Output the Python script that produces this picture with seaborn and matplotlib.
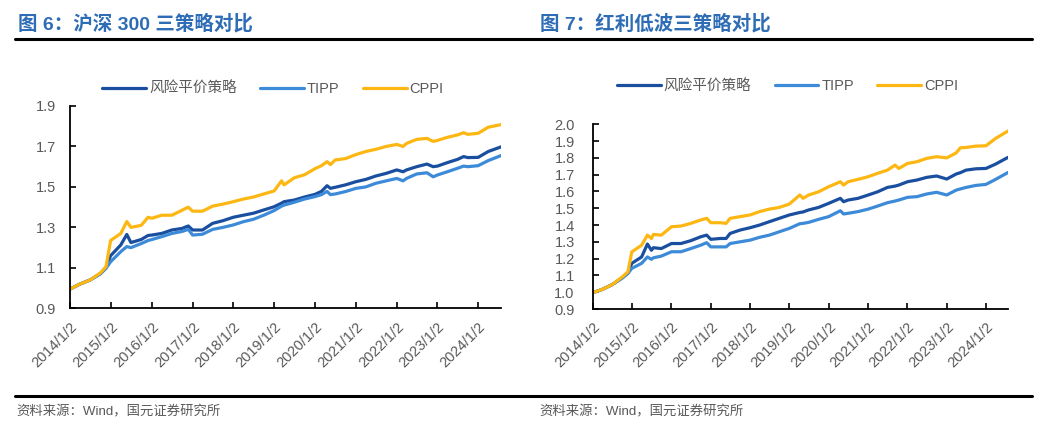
import matplotlib
matplotlib.use("Agg")
import matplotlib.pyplot as plt
from matplotlib.lines import Line2D
import numpy as np
import pandas as pd
import seaborn as sns

### data

series_names = ['风险平价策略', 'TIPP', 'CPPI']
series_colors = ['#1a4fa0', '#3d8bd8', '#fdb713']

# 图 6: 沪深300
hs300_dates = ['2014-01-02', '2014-04-01', '2014-07-01', '2014-10-01', '2014-11-20', '2014-12-31',
               '2015-04-01', '2015-05-25', '2015-07-01', '2015-10-01', '2015-12-01', '2016-01-04',
               '2016-04-01', '2016-07-01', '2016-10-01', '2016-11-25', '2017-01-03', '2017-04-01',
               '2017-07-01', '2017-10-01', '2018-01-02', '2018-04-01', '2018-07-01', '2018-10-01',
               '2019-01-02', '2019-03-10', '2019-04-01', '2019-07-01', '2019-10-01', '2020-01-02',
               '2020-03-01', '2020-04-20', '2020-05-20', '2020-07-01', '2020-10-01', '2021-01-04',
               '2021-04-01', '2021-07-01', '2021-10-01', '2022-01-04', '2022-03-01', '2022-04-01',
               '2022-07-01', '2022-10-01', '2022-11-25', '2023-01-03', '2023-04-01', '2023-07-01',
               '2023-08-25', '2023-10-01', '2024-01-02', '2024-04-01', '2024-07-25']
hs300_rp = [0.995, 1.020, 1.040, 1.072, 1.100, 1.160, 1.213, 1.265, 1.225, 1.240, 1.260, 1.262,
            1.270, 1.287, 1.295, 1.307, 1.287, 1.287, 1.320, 1.333, 1.350, 1.360, 1.370, 1.386,
            1.402, 1.420, 1.427, 1.435, 1.450, 1.463, 1.478, 1.506, 1.493, 1.498, 1.510, 1.526,
            1.537, 1.554, 1.567, 1.584, 1.575, 1.584, 1.600, 1.613, 1.600, 1.603, 1.620, 1.636,
            1.650, 1.645, 1.646, 1.675, 1.698]
hs300_tipp = [0.995, 1.020, 1.040, 1.070, 1.098, 1.130, 1.180, 1.205, 1.200, 1.220, 1.235, 1.240,
              1.254, 1.270, 1.280, 1.290, 1.262, 1.266, 1.290, 1.300, 1.312, 1.328, 1.340, 1.360,
              1.383, 1.405, 1.410, 1.424, 1.440, 1.452, 1.462, 1.478, 1.462, 1.465, 1.477, 1.493,
              1.500, 1.518, 1.530, 1.542, 1.530, 1.542, 1.564, 1.570, 1.550, 1.559, 1.575, 1.592,
              1.603, 1.600, 1.605, 1.630, 1.655]
hs300_cppi = [0.995, 1.020, 1.040, 1.075, 1.106, 1.235, 1.270, 1.329, 1.300, 1.310, 1.350, 1.345,
              1.360, 1.360, 1.385, 1.400, 1.380, 1.380, 1.405, 1.415, 1.427, 1.440, 1.450, 1.465,
              1.480, 1.530, 1.510, 1.545, 1.560, 1.590, 1.605, 1.625, 1.610, 1.633, 1.640, 1.660,
              1.675, 1.686, 1.700, 1.710, 1.700, 1.715, 1.735, 1.740, 1.725, 1.730, 1.745, 1.757,
              1.768, 1.760, 1.765, 1.795, 1.808]

# 图 7: 红利低波
hldb_dates = ['2014-01-02', '2014-04-01', '2014-07-01', '2014-10-01', '2014-11-25', '2014-12-31',
              '2015-04-01', '2015-05-25', '2015-07-01', '2015-07-20', '2015-10-01', '2016-01-04',
              '2016-04-01', '2016-07-01', '2016-10-01', '2016-11-25', '2017-01-03', '2017-04-01',
              '2017-05-25', '2017-07-01', '2017-10-01', '2018-01-02', '2018-04-01', '2018-07-01',
              '2018-10-01', '2019-01-02', '2019-04-10', '2019-05-10', '2019-07-01', '2019-10-01',
              '2020-01-02', '2020-04-20', '2020-05-20', '2020-07-01', '2020-10-01', '2021-01-04',
              '2021-04-01', '2021-07-01', '2021-09-10', '2021-10-15', '2022-01-04', '2022-04-01',
              '2022-07-01', '2022-10-01', '2023-01-03', '2023-04-01', '2023-05-10', '2023-07-01',
              '2023-10-01', '2024-01-02', '2024-04-01', '2024-07-25']
hldb_rp = [0.997, 1.017, 1.045, 1.085, 1.115, 1.172, 1.210, 1.287, 1.250, 1.265, 1.260, 1.290,
           1.290, 1.307, 1.330, 1.340, 1.315, 1.320, 1.320, 1.350, 1.370, 1.384, 1.400, 1.420,
           1.440, 1.460, 1.475, 1.478, 1.490, 1.505, 1.529, 1.559, 1.539, 1.549, 1.559, 1.579,
           1.598, 1.624, 1.632, 1.638, 1.658, 1.668, 1.684, 1.692, 1.674, 1.704, 1.712, 1.727,
           1.735, 1.737, 1.763, 1.803]
hldb_tipp = [0.997, 1.017, 1.045, 1.083, 1.112, 1.142, 1.172, 1.210, 1.196, 1.205, 1.215, 1.241,
             1.241, 1.260, 1.280, 1.295, 1.270, 1.270, 1.270, 1.290, 1.300, 1.310, 1.327, 1.340,
             1.360, 1.380, 1.408, 1.410, 1.416, 1.434, 1.450, 1.485, 1.466, 1.470, 1.480, 1.495,
             1.513, 1.533, 1.543, 1.549, 1.565, 1.569, 1.585, 1.595, 1.579, 1.608, 1.615, 1.624,
             1.636, 1.642, 1.672, 1.713]
hldb_cppi = [0.997, 1.017, 1.045, 1.090, 1.122, 1.240, 1.280, 1.340, 1.320, 1.344, 1.340, 1.390,
             1.394, 1.410, 1.430, 1.440, 1.414, 1.414, 1.410, 1.440, 1.450, 1.460, 1.480, 1.495,
             1.505, 1.525, 1.579, 1.559, 1.579, 1.598, 1.628, 1.658, 1.638, 1.658, 1.672, 1.688,
             1.708, 1.727, 1.757, 1.737, 1.767, 1.777, 1.797, 1.807, 1.800, 1.830, 1.860, 1.862,
             1.870, 1.872, 1.916, 1.960]

tick_dates = ['%d-01-02' % y for y in range(2014, 2025)]
tick_labels = ['%d/1/2' % y for y in range(2014, 2025)]

### style
sns.set_style('ticks')
plt.rcParams['font.family'] = ['Liberation Sans', 'Noto Sans CJK SC']
gray = '#595959'
blue_title = '#2e6cb5'


def to_long(dates, rp, tipp, cppi):
    df = pd.DataFrame({'date': pd.to_datetime(dates),
                       series_names[0]: rp,
                       series_names[1]: tipp,
                       series_names[2]: cppi})
    return df.melt(id_vars='date', var_name='series', value_name='value')


def draw_panel(ax, df, yticks, ylim, legend_xy, ypad):
    sns.lineplot(data=df, x='date', y='value', hue='series', hue_order=series_names,
                 palette=series_colors, linewidth=2.3, ax=ax, legend=False)
    ax.set_xlim(pd.Timestamp('2014-01-02'), pd.Timestamp('2024-07-25'))
    ax.set_ylim(*ylim)
    ax.set_yticks(yticks)
    ax.set_yticklabels(['%.1f' % v for v in yticks])
    ax.set_xticks(pd.to_datetime(tick_dates))
    ax.set_xticklabels(tick_labels, rotation=45, ha='right', rotation_mode='anchor')
    ax.set_xlabel('')
    ax.set_ylabel('')
    for s in ['top', 'right']:
        ax.spines[s].set_visible(False)
    for s in ['left', 'bottom']:
        ax.spines[s].set_color('black')
        ax.spines[s].set_linewidth(1.3)
    ax.tick_params(axis='both', direction='in', length=4, width=1.2, color='black',
                   labelsize=10.5, labelcolor=gray)
    ax.tick_params(axis='x', pad=8)
    ax.tick_params(axis='y', pad=ypad)
    handles = [Line2D([0], [0], color=c, lw=2.3) for c in series_colors]
    ax.figure.legend(handles, series_names, loc='center', bbox_to_anchor=legend_xy, ncol=3,
                     frameon=False, handlelength=3.0, handletextpad=0.2, columnspacing=1.6,
                     prop={'size': 10.5}, labelcolor=gray)


fig = plt.figure(figsize=(10.5, 4.45), dpi=100)

ax1 = fig.add_axes([0.0667, 0.3072, 0.4105, 0.4546])
draw_panel(ax1, to_long(hs300_dates, hs300_rp, hs300_tipp, hs300_cppi),
           [0.9, 1.1, 1.3, 1.5, 1.7, 1.9], (0.9, 1.9), (0.260, 0.800), 10)

ax2 = fig.add_axes([0.5645, 0.3056, 0.3955, 0.4151])
draw_panel(ax2, to_long(hldb_dates, hldb_rp, hldb_tipp, hldb_cppi),
           list(np.round(np.arange(0.9, 2.01, 0.1), 1)), (0.9, 2.0), (0.750, 0.806), 13)

# titles, rules and source notes
fig.text(18 / 1050, 1 - 24 / 445, '图 6：沪深 300 三策略对比', fontsize=14, fontweight='bold',
         color=blue_title, va='center', ha='left')
fig.text(540 / 1050, 1 - 24 / 445, '图 7：红利低波三策略对比', fontsize=14, fontweight='bold',
         color=blue_title, va='center', ha='left')
fig.add_artist(Line2D([15 / 1050, 1032 / 1050], [1 - 38.7 / 445] * 2, color='black', lw=2.2))
fig.add_artist(Line2D([15 / 1050, 1032 / 1050], [1 - 396 / 445] * 2, color='black', lw=2.2))
fig.text(16 / 1050, 1 - 412 / 445, '资料来源：Wind，国元证券研究所', fontsize=9.6, color=gray,
         va='center', ha='left')
fig.text(539 / 1050, 1 - 412 / 445, '资料来源：Wind，国元证券研究所', fontsize=9.6, color=gray,
         va='center', ha='left')

fig.savefig('out.png', dpi=100)
